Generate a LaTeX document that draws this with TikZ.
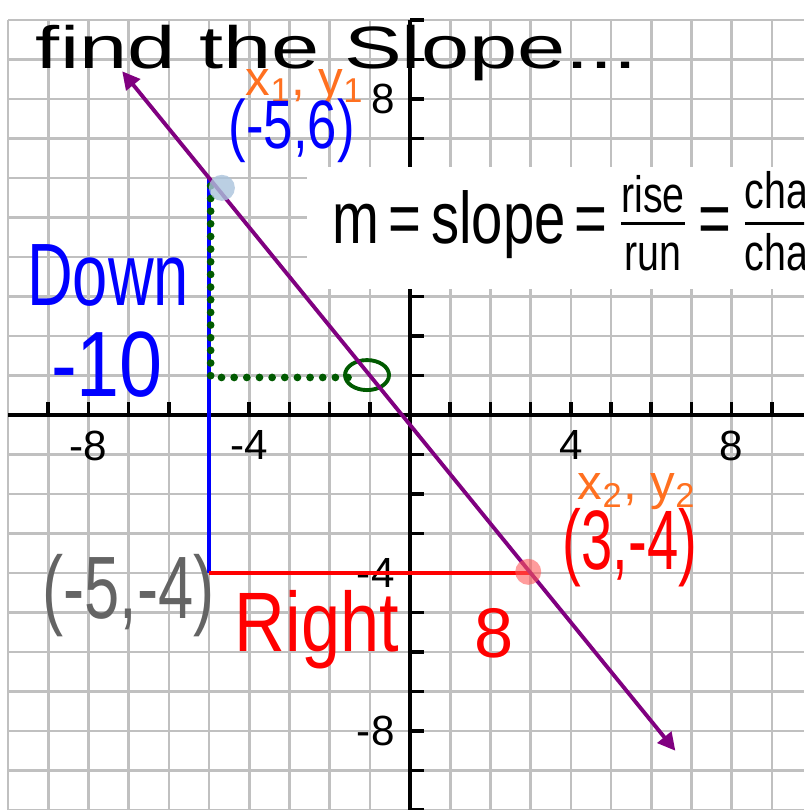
\documentclass[tikz,border=0pt]{standalone}
\usepackage{amsmath}
\usepackage{fontspec}
\setmainfont{Liberation Sans}
\usepackage{xcolor}
\usepackage{tikz}
\usetikzlibrary{arrows.meta, calc}

\definecolor{gridgray}{RGB}{192,192,192}
\definecolor{penblue}{RGB}{0,0,255}
\definecolor{penred}{RGB}{255,0,0}
\definecolor{penorange}{RGB}{255,112,32}
\definecolor{pengray}{RGB}{100,100,100}
\definecolor{pengreen}{RGB}{0,90,0}
\definecolor{linepurple}{RGB}{128,0,128}
\definecolor{dotblue}{RGB}{170,195,220}
\definecolor{dotred}{RGB}{255,90,90}

\begin{document}
\begin{tikzpicture}[
    x=0.402cm, y=0.395cm,
    gridline/.style={gridgray, line width=0.75pt},
    axis/.style={black, line width=1pt},
    ticklbl/.style={inner sep=0pt, font=\fontsize{12}{14}\selectfont},
    hand/.style={inner sep=0pt},
    pen/.style={line width=1.2pt},
    dots/.style={pengreen, line width=2.2pt, line cap=round, dash pattern=on 0pt off 3.6pt},
    slopeline/.style={linepurple, line width=1.1pt,
                      {Triangle[length=5pt,width=5pt]}-{Triangle[length=5pt,width=5pt]}},
  ]
  \useasboundingbox (-10.2,-10) rectangle (9.8,10.506);
  \clip (-10.2,-10) rectangle (9.8,10.506);
  \fill[white] (-10.2,-10) rectangle (9.8,10.506);

  % grid
  \foreach \i in {-10,...,10}
    \draw[gridline] (-10,\i) -- (9.8,\i);
  \foreach \i in {-10,...,9}
    \draw[gridline] (\i,-10) -- (\i,10);

  % axes and ticks
  \draw[axis] (-10,0) -- (9.8,0);
  \draw[axis] (0,-10) -- (0,10);
  \foreach \i in {-9,...,-1,1,2,...,9}
    \draw[axis] (\i,0) -- (\i,0.34);
  \foreach \i in {-10,...,-1,1,2,...,10}
    \draw[axis] (0,\i) -- (0.35,\i);
  \foreach \i [count=\c] in {-8,-4,4,8}
    \node[ticklbl, anchor=north] (xlab\c) at (\i,-0.38) {\i};
  \foreach \i [count=\c] in {8,-4,-8}
    \node[ticklbl, anchor=east] (ylab\c) at (-0.37,\i) {\i};

  % white patch behind the formula
  \fill[white] (-2.56,3.19) rectangle (9.8,6.28);

  \coordinate (A) at (-5,6);
  \coordinate (B) at (3,-4);
  \coordinate (C) at (-5,-4);

  % down / right legs
  \draw[penblue, pen] (A) -- (C);
  \draw[penred, pen] (C) -- (B);

  % dotted rise and run, circled point
  \coordinate (g1) at (-4.96,5.8);
  \coordinate (g2) at (-4.96,0.95);
  \coordinate (g3) at (-1.3,0.95);
  \coordinate (ring) at (-1.07,1.01);
  \draw[dots] (g1) -- (g2) -- (g3);
  \draw[pengreen, line width=1.1pt] (ring) ellipse [x radius=0.22cm, y radius=0.15cm];

  % the line
  \coordinate (L1) at ($(A)!-0.27!(B)$);
  \coordinate (L2) at ($(A)!1.45!(B)$);
  \draw[slopeline] (L1) -- (L2);

  \fill[dotblue, fill opacity=0.8] (-4.68,5.75) circle (0.13cm);
  \fill[dotred, fill opacity=0.6] (2.94,-3.97) circle (0.13cm);

  % handwriting
  \node[hand, anchor=base west, font=\fontsize{17}{20}\selectfont, xscale=1.45] (title) at (-9.33,8.78) {find the Slope...};
  \node[hand, penorange, font=\fontsize{14}{16}\selectfont] (xy1) at (-2.61,8.3) {x\textsubscript{1}, y\textsubscript{1}};
  \node[hand, penblue, font=\fontsize{15}{18}\selectfont, yscale=1.3] (ptA) at (-2.94,7.2) {(-5,6)};
  \node[hand, anchor=base west, font=\fontsize{16}{19}\selectfont, yscale=1.3] (formula) at (-1.94,4.35)
    {m\,=\,slope\,=\,$\frac{\text{rise}}{\text{run}}$\,=\,$\frac{\text{change}}{\text{change}}$};
  \node[hand, penblue, font=\fontsize{18}{22}\selectfont, yscale=1.4] (down) at (-7.51,3.54) {Down};
  \node[hand, penblue, font=\fontsize{22}{26}\selectfont, yscale=1.2] (drop) at (-7.54,1.27) {-10};
  \node[hand, pengray, font=\fontsize{18}{22}\selectfont, yscale=1.4] (ptC) at (-7.01,-4.58) {(-5,-4)};
  \node[hand, penred, anchor=base west, font=\fontsize{20}{24}\selectfont, yscale=1.2] (right) at (-4.38,-6.0) {Right};
  \node[hand, penred, anchor=base, font=\fontsize{20}{24}\selectfont] (run) at (2.09,-6.15) {8};
  \node[hand, penred, font=\fontsize{16}{19}\selectfont, yscale=1.5] (ptB) at (5.47,-3.35) {(3,-4)};
  \node[hand, penorange, font=\fontsize{14}{16}\selectfont] (xy2) at (5.65,-1.95) {x\textsubscript{2}, y\textsubscript{2}};
\end{tikzpicture}
\end{document}
